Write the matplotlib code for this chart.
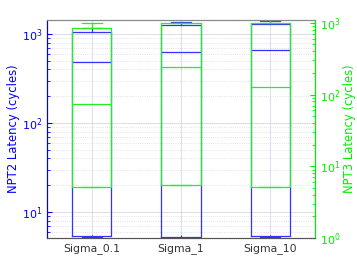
import matplotlib
matplotlib.use("Agg")
import matplotlib.pyplot as plt

groups = ["Sigma_0.1", "Sigma_1", "Sigma_10"]

# NPT2 (left axis)
npt2_lo = [5.2, 5.1, 5.2]
npt2_q1 = [5.3, 5.2, 5.3]
npt2_med = [481, 623, 662]
npt2_q3 = [1045, 1262, 1285]
npt2_hi = [1177, 1350, 1420]

# NPT3 (right axis)
npt3_lo = [5.15, 5.4, 5.15]
npt3_q1 = [5.2, 5.45, 5.2]
npt3_med = [74, 243, 128]
npt3_q3 = [836, 980, 980]
npt3_hi = [980, 980, 1080]


def stats(lo, q1, med, q3, hi):
    return [dict(whislo=a, q1=b, med=c, q3=d, whishi=e, fliers=[])
            for a, b, c, d, e in zip(lo, q1, med, q3, hi)]


blue = "#3333ff"
green = "#22ee22"
pos = [1, 2, 3]

fig = plt.figure(figsize=(3.57, 2.68), dpi=100)
ax = fig.add_axes([0.132, 0.112, 0.750, 0.813])
ax2 = ax.twinx()


def draw(a, st, col):
    parts = a.bxp(st, positions=pos, widths=0.44, showfliers=False,
                  manage_ticks=False)
    for key in ("boxes", "medians", "whiskers", "caps"):
        for ln in parts[key]:
            ln.set_color(col)
            ln.set_linewidth(0.9)


draw(ax, stats(npt2_lo, npt2_q1, npt2_med, npt2_q3, npt2_hi), blue)
draw(ax2, stats(npt3_lo, npt3_q1, npt3_med, npt3_q3, npt3_hi), green)

ax.set_yscale("log")
ax2.set_yscale("log")
ax.set_ylim(5.1, 1435)
ax2.set_ylim(1, 1090)
ax.set_xlim(0.5, 3.5)
ax.set_xticks(pos)
ax.set_xticklabels(groups, fontsize=7.8, color="#333333")

ax.grid(True, which="major", color="#d8d8e4", linewidth=0.6)
ax.grid(True, which="minor", axis="y", color="#d8d8e4", linewidth=0.6, linestyle=":")
ax.set_axisbelow(True)

ax.tick_params(axis="y", which="both", direction="in", colors="#0000ff", labelsize=8)
ax.tick_params(axis="x", direction="in", length=2, colors="#333333")
ax2.tick_params(axis="y", which="both", direction="in", colors="#00ee00", labelsize=8)

ax.set_ylabel("NPT2 Latency (cycles)", color="#0000ff", fontsize=8.4, labelpad=1)
ax2.set_ylabel("NPT3 Latency (cycles)", color="#00ee00", fontsize=8.4, labelpad=2)

ax.spines["left"].set_color("#0000ff")
ax2.spines["left"].set_color("#0000ff")
ax2.spines["right"].set_color("#00ee00")
ax.spines["right"].set_color("#00ee00")
for a in (ax, ax2):
    a.spines["top"].set_color("#888888")
    a.spines["bottom"].set_color("#555555")

fig.savefig("out.png", dpi=100)
